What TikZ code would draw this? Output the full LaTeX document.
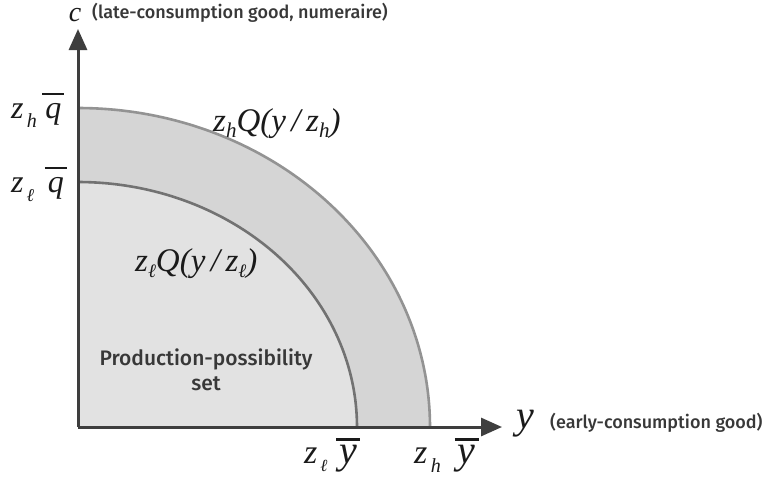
\documentclass[tikz,border=0pt]{standalone}
\usepackage{fontspec}
\setmainfont{Fira Sans}[UprightFont={* Medium}]
\newfontfamily\tms{Liberation Serif}
\usetikzlibrary{arrows.meta}
\newcommand\fsz[1]{\fontsize{#1}{#1}\selectfont}
\newcommand\barred[3]{\vbox{\hrule height #2\kern #3\hbox{\kern 3pt#1\kern 3pt}}}
\definecolor{innerfill}{HTML}{E2E2E2}
\definecolor{bandfill}{HTML}{D5D5D5}
\definecolor{innerline}{HTML}{727272}
\definecolor{outerline}{HTML}{939393}
\definecolor{axiscol}{HTML}{3E3E3E}
\definecolor{sanstext}{HTML}{383838}
\definecolor{mathtext}{HTML}{1A1A1A}
\tikzset{
  axisline/.style={draw=axiscol, line width=3pt, -{Triangle[length=21pt,width=18pt]}},
  frontier/.style={line width=2.6pt},
  mathlab/.style={inner sep=0pt, text=mathtext, font=\tms\itshape},
  sanslab/.style={inner sep=0pt, text=sanstext},
}
\begin{document}
\begin{tikzpicture}[x=1pt,y=-1pt]
\useasboundingbox (0,0) rectangle (765,477);
\fill[white] (0,0) rectangle (765,477);
\coordinate (O) at (78,427);
\coordinate (ytip) at (78,29);
\coordinate (xtip) at (502,427);
% regions
\fill[bandfill] (O) -- plot[domain=90:0,samples=120] ({78+352*cos(\x)},{427-319*sin(\x)}) -- cycle;
\fill[innerfill] (O) -- plot[domain=90:0,samples=120] ({78+279*cos(\x)},{427-245*sin(\x)}) -- cycle;
\draw[frontier, outerline] plot[domain=90:0,samples=120] ({78+352*cos(\x)},{427-319*sin(\x)});
\draw[frontier, innerline] plot[domain=90:0,samples=120] ({78+279*cos(\x)},{427-245*sin(\x)});
% axes
\draw[axisline] (O) -- (ytip);
\draw[axisline] (O) -- (xtip);
% axis labels
\node[mathlab, anchor=base, font=\tms\itshape\fsz{28}, text height=12pt, text depth=0pt] (clab) at (75,21) {c};
\node[sanslab, anchor=base west, font=\fsz{18}] (cdesc) at (92,18) {(late-consumption good, numeraire)};
\node[mathlab, anchor=base west, font=\tms\itshape\fsz{40}] (ylab) at (516,428) {y};
\node[sanslab, anchor=base west, font=\fsz{18}] (ydesc) at (550,428) {(early-consumption good)};
% vertical intercepts
\node[mathlab, anchor=base west, font=\tms\itshape\fsz{32}] (zhq) at (11,118)
  {z\raisebox{-9pt}{\fsz{20}\,h}\,\barred{q}{2pt}{8pt}};
\node[mathlab, anchor=base west, font=\tms\itshape\fsz{32}] (zlq) at (11,192)
  {z\raisebox{-9pt}{\fsz{18}\,ℓ}\,\,\barred{q}{2pt}{8pt}};
% horizontal intercepts
\node[mathlab, anchor=base west, font=\tms\itshape\fsz{34}] (zly) at (304,463)
  {z\raisebox{-8pt}{\fsz{17}\,ℓ}\kern 9pt\barred{\fsz{40}y}{2.2pt}{4pt}};
\node[mathlab, anchor=base west, font=\tms\itshape\fsz{34}] (zhy) at (414,463)
  {z\raisebox{-9pt}{\fsz{20}\,h}\kern 14pt\barred{\fsz{40}y}{2.2pt}{4pt}};
% frontier labels
\node[mathlab, anchor=base west, font=\tms\itshape\fsz{33}] (zhQ) at (213,131)
  {z\raisebox{-6pt}{\fsz{21}h}Q(y\,/\,z\raisebox{-6pt}{\fsz{21}h})};
\node[mathlab, anchor=base west, font=\tms\itshape\fsz{33}] (zlQ) at (135,271)
  {z\raisebox{-6pt}{\fsz{19}ℓ}Q(y\,/\,z\raisebox{-6pt}{\fsz{19}ℓ})};
% set label
\node[sanslab, align=center, font=\fsz{21}, anchor=center] (pps) at (206,370)
  {Production-possibility\\[4pt]set};
\end{tikzpicture}
\end{document}
